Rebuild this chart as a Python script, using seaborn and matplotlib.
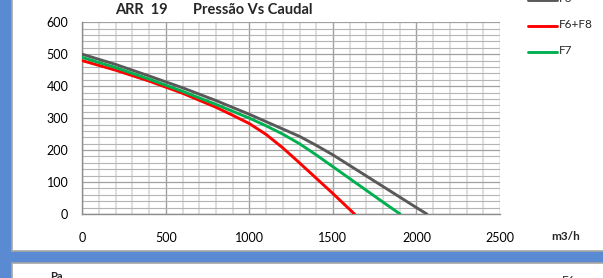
import matplotlib
matplotlib.use("Agg")
import matplotlib.pyplot as plt
import seaborn as sns
import pandas as pd
from matplotlib.patches import Rectangle
from matplotlib.lines import Line2D
from matplotlib.ticker import MultipleLocator

# ---- data ----
title_left = "ARR  19"
title_right = "Pressão Vs Caudal"
y_unit = "Pa"
x_unit = "m3/h"
series_names = ["F6", "F6+F8", "F7"]
series_colors = ["#595959", "#FF0000", "#00B050"]

f6_x = [0, 200, 400, 600, 800, 1000, 1200, 1300, 1400, 1500, 1600, 1700, 1800, 1900, 2000, 2062]
f6_y = [500, 468, 432, 395, 355, 312, 266, 243, 215, 185, 152, 119, 86, 53, 20, 0]
f68_x = [0, 200, 400, 600, 800, 900, 1000, 1100, 1200, 1300, 1400, 1500, 1629]
f68_y = [480, 450, 416, 378, 334, 309, 283, 249, 207, 160, 112, 64, 0]
f7_x = [0, 200, 400, 600, 800, 1000, 1100, 1200, 1300, 1400, 1500, 1600, 1700, 1800, 1902]
f7_y = [490, 458, 422, 384, 343, 300, 276, 250, 220, 185, 148, 111, 74, 37, 0]

x_ticks = [0, 500, 1000, 1500, 2000, 2500]
y_ticks = [0, 100, 200, 300, 400, 500, 600]

frames = []
for name, xs, ys in [("F6", f6_x, f6_y), ("F6+F8", f68_x, f68_y), ("F7", f7_x, f7_y)]:
    frames.append(pd.DataFrame({"caudal": xs, "pressao": ys, "serie": name}))
df = pd.concat(frames, ignore_index=True)
palette = dict(zip(series_names, series_colors))

# ---- figure ----
W, H = 603, 278
sns.set_style("white")
plt.rcParams["font.family"] = ["Lato", "DejaVu Sans"]

fig = plt.figure(figsize=(W / 100, H / 100), dpi=100, facecolor="#5A8AD2")

def fx(px):
    return px / W

def fy(py):
    return 1 - py / H

# white panels
fig.patches.append(Rectangle((fx(12), fy(251)), fx(600), 251 / H + 0.01,
                             transform=fig.transFigure, facecolor="white",
                             edgecolor="#A6A6A6", linewidth=1.2, zorder=-5))
fig.patches.append(Rectangle((fx(12), fy(290)), fx(600), (290 - 263) / H,
                             transform=fig.transFigure, facecolor="white",
                             edgecolor="#A6A6A6", linewidth=1.2, zorder=-5))

ax = fig.add_axes([fx(82.3), fy(214), fx(500 - 82.3), (214 - 22.3) / H])
ax.set_zorder(2)
ax.set_facecolor("white")

sns.lineplot(data=df, x="caudal", y="pressao", hue="serie", palette=palette,
             hue_order=series_names, linewidth=2.1, legend=False, ax=ax,
             sort=False, estimator=None, zorder=5)

ax.set_xlim(0, 2500)
ax.set_ylim(0, 600)
ax.set_xticks(x_ticks)
ax.set_yticks(y_ticks)
ax.xaxis.set_minor_locator(MultipleLocator(100))
ax.yaxis.set_minor_locator(MultipleLocator(20))
ax.set_xticklabels([str(v) for v in x_ticks])
ax.set_yticklabels([str(v) for v in y_ticks])

ax.grid(which="minor", axis="y", color="#B4B4B4", linewidth=0.8)
ax.grid(which="major", axis="y", color="#A0A0A0", linewidth=0.9)
ax.grid(which="minor", axis="x", color="#D9D9D9", linewidth=1.2)
ax.grid(which="major", axis="x", color="#A0A0A0", linewidth=1.0)
ax.set_axisbelow(True)

for s in ["top", "right"]:
    ax.spines[s].set_visible(False)
for s in ["left", "bottom"]:
    ax.spines[s].set_color("#8C8C8C")
    ax.spines[s].set_linewidth(1.0)

ax.tick_params(axis="both", which="major", direction="out", length=3.6,
               width=0.9, color="#8C8C8C", labelsize=9, labelcolor="black")
ax.tick_params(axis="y", which="major", pad=6.5)
ax.tick_params(axis="x", which="major", pad=9.0)
ax.tick_params(axis="both", which="minor", length=0)
ax.set_xlabel("")
ax.set_ylabel("")

# titles and units
fig.text(fx(115), fy(10), title_left, fontsize=10.5, fontweight="bold", va="center", ha="left")
fig.text(fx(193), fy(10), title_right, fontsize=10.5, fontweight="bold", va="center", ha="left")
fig.text(fx(551), fy(237), x_unit, fontsize=8.5, fontweight="bold", va="center", ha="left")
fig.text(fx(50), fy(-3), y_unit, fontsize=8, fontweight="bold", va="center", ha="left")
fig.text(fx(50), fy(276), y_unit, fontsize=8, fontweight="bold", va="center", ha="left")

# legend (manual, matching original placement)
leg_y = [-1, 25, 50.7]
for name, col, yy in zip(series_names, series_colors, leg_y):
    fig.lines.append(Line2D([fx(528), fx(557)], [fy(yy + 1), fy(yy + 1)],
                            transform=fig.transFigure, color=col, linewidth=2.1))
    fig.text(fx(559), fy(yy), name, fontsize=8.5, va="center", ha="left")
fig.text(fx(562), fy(280), "F6", fontsize=8.5, va="center", ha="left")

fig.savefig("out.png", dpi=100, facecolor=fig.get_facecolor())
